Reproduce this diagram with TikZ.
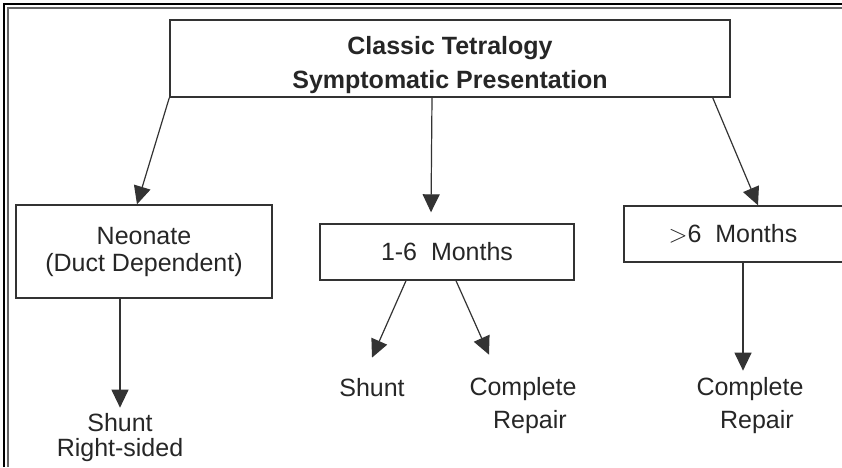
\documentclass[tikz,border=0pt]{standalone}
\usepackage{fontspec}
\setmainfont{Liberation Sans}
\usepackage{tikz}
\usetikzlibrary{calc,arrows.meta,positioning}

\begin{document}
\begin{tikzpicture}[x=1pt,y=-1pt,
  box/.style={draw=black!80,line width=1.4pt,inner sep=0pt,align=center,
    font=\fontsize{25}{27}\selectfont,text=black!85},
  lbl/.style={inner sep=0pt,align=center,font=\fontsize{25}{27}\selectfont,text=black!85},
  arr/.style={draw=black!80,line width=1.2pt,-{Triangle[length=18pt,width=17pt]}}]
  \useasboundingbox (0,0) rectangle (842,467);
  % frame
  \draw[line width=2pt] (4,467) -- (4,4) -- (842,4);
  \draw[line width=1.4pt,black!60] (8,467) -- (8,8) -- (842,8);
  \node[box,minimum width=560,minimum height=77,font=\bfseries\fontsize{25}{34}\selectfont] (top) at (450,58.5) {\rule{0pt}{31pt}Classic Tetralogy\\Symptomatic Presentation};
  \node[box,minimum width=256,minimum height=93] (neo) at (144,251.5) {Neonate\\(Duct Dependent)};
  \node[box,minimum width=254,minimum height=56] (mid) at (447,252) {1-6\ \ Months};
  \node[box,minimum width=226,minimum height=56] (old) at (737,234) {\hspace*{-8pt}$>$6\ \ Months};
  \node[lbl,font=\fontsize{25}{25}\selectfont] (shuntr) at (120,438) {Shunt\\Right-sided};
  \node[lbl] (shunt) at (372,388) {Shunt};
  \node[lbl,font=\fontsize{25}{33}\selectfont] (repm) at (523,406) {Complete\\\ \ Repair};
  \node[lbl,font=\fontsize{25}{33}\selectfont] (repo) at (750,406) {Complete\\\ \ Repair};
  \draw[arr] (top.south west) -- ([xshift=-7pt]neo.north);
  \draw[arr] ([xshift=-18pt]top.south) -- ([xshift=-16pt,yshift=11pt]mid.north);
  \draw[arr] ([xshift=-18pt]top.south east) -- ([xshift=21pt]old.north);
  \draw[arr] (neo.south -| shuntr.north) -- ([yshift=6pt]shuntr.north);
  \draw[arr] ([xshift=-41pt]mid.south) -- ([yshift=21pt]shunt.north);
  \draw[arr] ([xshift=9pt]mid.south) -- ([xshift=-34pt,yshift=23pt]repm.north);
  \draw[arr] ([xshift=6pt]old.south) -- ([xshift=-7pt,yshift=7pt]repo.north);
\end{tikzpicture}
\end{document}
